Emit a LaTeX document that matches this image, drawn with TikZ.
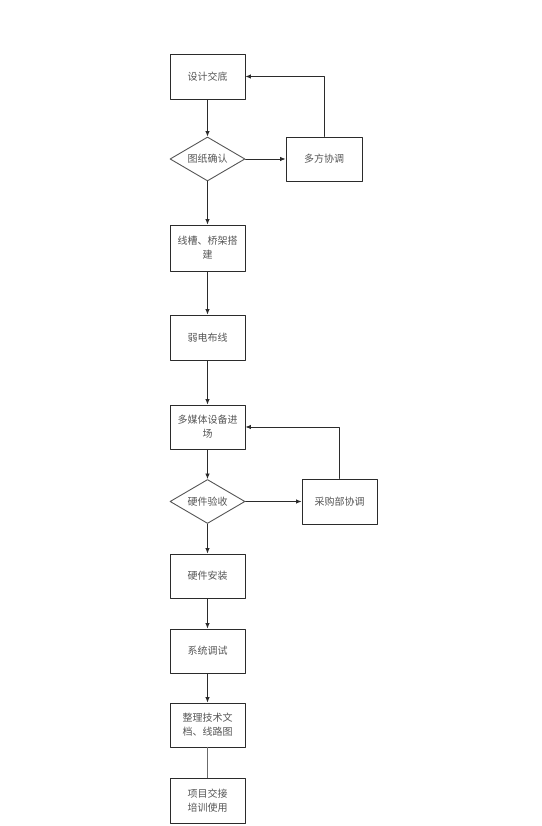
\documentclass[tikz,border=0pt]{standalone}
\usepackage{fontspec}
\newfontfamily\cjk{Noto Sans CJK SC}
\usetikzlibrary{arrows.meta, shapes.geometric, positioning}
\definecolor{ink}{HTML}{2B2B2B}
\definecolor{txt}{HTML}{555555}
\tikzset{
  stepbox/.style={draw=ink, line width=0.9pt, minimum width=75pt, minimum height=45pt,
    inner sep=2pt, align=center, font=\cjk\fontsize{10}{14}\selectfont, text=txt},
  checkbox/.style={draw=ink!80, line width=0.9pt, diamond, aspect=1.7, inner sep=0pt,
    minimum width=75pt, minimum height=44pt, font=\cjk\fontsize{10}{14}\selectfont, text=txt},
  flow/.style={draw=ink, line width=0.8pt, -{Latex[length=5.5pt,width=4.5pt]}},
  el/.style={line cap=round, line join=round}
}

\begin{document}
\begin{tikzpicture}[x=1pt, y=1pt, el]
  \useasboundingbox (0,0) rectangle (541,826);
  % main column
  \node[stepbox] (jd) at (207.5,749.5) {设计交底};
  \node[checkbox] (tz) at (207.5,667) {图纸确认};
  \node[stepbox, minimum width=76pt, minimum height=44pt] (df) at (324,667) {多方协调};
  \node[stepbox, minimum height=46pt] (qj) at (207.5,578) {线槽、桥架搭\\建};
  \node[stepbox] (rd) at (207.5,488.5) {弱电布线};
  \node[stepbox, minimum height=44pt] (jc) at (207.5,399) {多媒体设备进\\场};
  \node[checkbox] (ys) at (207.5,324.5) {硬件验收};
  \node[stepbox] (cg) at (339.5,324.5) {采购部协调};
  \node[stepbox, minimum height=44pt] (az) at (207.5,250) {硬件安装};
  \node[stepbox, minimum height=44pt] (ts) at (207.5,175) {系统调试};
  \node[stepbox, minimum height=44pt] (wd) at (207.5,101) {整理技术文\\档、线路图};
  \node[stepbox] (px) at (207.5,25.5) {项目交接\\培训使用};

  % arrows down the column
  \foreach \a/\b in {jd/tz, tz/qj, qj/rd, rd/jc, jc/ys, ys/az, az/ts, ts/wd}
    \draw[flow] (\a.south) -- (\b.north);
  \draw[ink!70, line width=1.3pt] (wd.south) -- (px.north);

  % side loops
  \draw[flow] (tz.east) -- (df.west);
  \draw[flow] (df.north) |- (jd.east);
  \draw[flow] (ys.east) -- (cg.west);
  \draw[flow] (cg.north) |- (jc.east);
\end{tikzpicture}
\end{document}
